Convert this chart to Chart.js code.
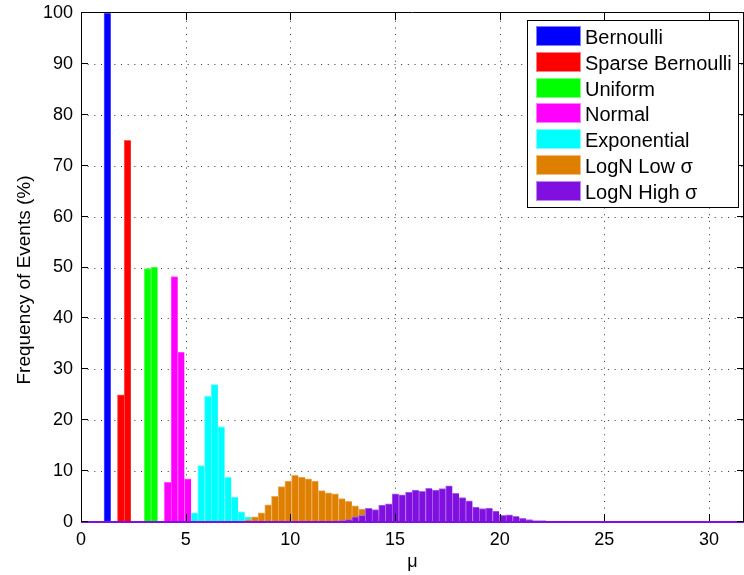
<!DOCTYPE html>
<html>
<head>
<meta charset="utf-8">
<script src="https://cdn.jsdelivr.net/npm/chart.js@4/dist/chart.umd.min.js"></script>
<style>
html,body{margin:0;padding:0;background:#fff;}
#wrap{width:744px;height:575px;}
</style>
</head>
<body>
<div id="wrap"><canvas id="c" width="744" height="575"></canvas></div>
<script>
// Histogram bin centres (μ)
const binCenters = [1.26,1.58,1.90,2.22,2.54,2.86,3.18,3.50,3.82,4.14,4.46,4.78,5.10,5.42,5.74,6.06,6.38,6.70,7.02,7.34,
  7.66,7.98,8.30,8.62,8.94,9.26,9.58,9.90,10.22,10.54,10.86,11.18,11.50,11.82,12.14,12.46,12.78,13.10,13.42,13.74,
  14.06,14.38,14.70,15.02,15.34,15.66,15.98,16.30,16.62,16.94,17.26,17.58,17.90,18.22,18.54,18.86,19.18,19.50,19.82,20.14,
  20.46,20.78,21.10,21.42,21.74,22.06,22.38,22.70,23.02,23.34,23.66];

const seriesNames = ['Bernoulli','Sparse Bernoulli','Uniform','Normal','Exponential','LogN Low \u03c3','LogN High \u03c3'];
const seriesColors = ['#0000ff','#ff0000','#00ff00','#ff00ff','#00ffff','#df7f00','#7f10e0'];
// first bin index of each series
const seriesStartBin = [0, 2, 6, 9, 13, 21, 30];
// frequency of events (%) per bin
const bernoulli = [100];
const sparseBernoulli = [25, 75];
const uniform = [49.8, 50.1];
const normal = [7.8, 48.2, 33.4, 8.5];
const exponential = [1.8, 11.1, 24.7, 27.0, 18.7, 8.8, 4.9, 2.0, 1.0, 0.4];
const logNLow = [0.5, 1.0, 1.8, 3.35, 5.05, 6.95, 8.05, 9.15, 8.8, 8.5, 8.05, 6.15, 5.75, 5.55, 4.6, 4.05, 3.2, 2.55, 2.0, 1.5, 1.1, 0.8, 0.5, 0.3];
const logNHigh = [0.1, 0.1, 0.1, 0.15, 0.2, 0.3, 0.5, 1.0, 1.3, 2.7, 2.45, 3.3, 3.55, 5.55, 5.35, 5.9, 6.25, 6.05, 6.6, 6.25,
  6.55, 7.1, 5.65, 4.8, 4.15, 2.95, 2.65, 2.75, 2.15, 1.3, 1.4, 1.1, 0.7, 0.5, 0.3, 0.3, 0.2, 0.2, 0.2, 0.15, 0.1];
const seriesValues = [bernoulli, sparseBernoulli, uniform, normal, exponential, logNLow, logNHigh];

const xTicks = [0, 5, 10, 15, 20, 25, 30];
const yTicks = [0, 10, 20, 30, 40, 50, 60, 70, 80, 90, 100];
const xMax = 31.67;
const yTitle = 'Frequency of Events (%)';

function tint(hex, f) {
  const n = parseInt(hex.slice(1), 16);
  const r = (n >> 16) & 255, g = (n >> 8) & 255, b = n & 255;
  const m = c => Math.round(c + (255 - c) * f);
  return 'rgb(' + m(r) + ',' + m(g) + ',' + m(b) + ')';
}

const datasets = seriesValues.map((vals, i) => ({
  label: seriesNames[i],
  data: vals.map((v, j) => ({ x: binCenters[seriesStartBin[i] + j], y: v })),
  backgroundColor: seriesColors[i],
  borderColor: tint(seriesColors[i], 0.35),
  borderWidth: { top: 1, left: 1, right: 0, bottom: 0 },
  borderSkipped: 'start',
  grouped: false,
  barPercentage: 1.0,
  categoryPercentage: 1.0,
  order: seriesValues.length - 1 - i
}));

const FONT = '"Liberation Sans", Arial, Helvetica, sans-serif';

const decor = {
  id: 'decor',
  beforeDatasetsDraw(chart) {
    const { ctx, chartArea: a, scales: { x, y } } = chart;
    ctx.save();
    ctx.strokeStyle = '#333';
    ctx.lineWidth = 1;
    ctx.setLineDash([1, 5.67]);
    xTicks.forEach(v => {
      if (v === 0) return;
      const px = Math.round(x.getPixelForValue(v)) + 0.5;
      ctx.beginPath(); ctx.moveTo(px, a.bottom); ctx.lineTo(px, a.top); ctx.stroke();
    });
    yTicks.forEach(v => {
      if (v === 0 || v === 100) return;
      const py = Math.round(y.getPixelForValue(v)) + 0.5;
      ctx.beginPath(); ctx.moveTo(a.left, py); ctx.lineTo(a.right, py); ctx.stroke();
    });
    ctx.restore();
  },
  afterDatasetsDraw(chart) {
    const { ctx, chartArea: a, scales: { x, y } } = chart;
    ctx.save();
    // zero-height bins of the last series along the baseline
    ctx.fillStyle = seriesColors[6];
    ctx.fillRect(a.left, a.bottom - 1, a.right - a.left, 2);
    // axes box
    ctx.strokeStyle = '#000';
    ctx.lineWidth = 1;
    ctx.beginPath();
    ctx.moveTo(a.left + 0.5, a.bottom - 1);
    ctx.lineTo(a.left + 0.5, a.top - 0.5);
    ctx.lineTo(a.right - 0.5, a.top - 0.5);
    ctx.lineTo(a.right - 0.5, a.bottom - 1);
    ctx.stroke();
    // inward ticks
    const L = 7;
    ctx.beginPath();
    xTicks.forEach(v => {
      const px = Math.round(x.getPixelForValue(v)) + 0.5;
      ctx.moveTo(px, a.bottom - 1); ctx.lineTo(px, a.bottom - 1 - L);
      ctx.moveTo(px, a.top); ctx.lineTo(px, a.top + L);
    });
    yTicks.forEach(v => {
      const py = Math.round(y.getPixelForValue(v)) - 0.5;
      ctx.moveTo(a.left, py); ctx.lineTo(a.left + L, py);
      ctx.moveTo(a.right, py); ctx.lineTo(a.right - L, py);
    });
    ctx.stroke();
    // y axis title
    ctx.translate(25, 280);
    ctx.rotate(-Math.PI / 2);
    ctx.font = '19px ' + FONT;
    ctx.fillStyle = '#000';
    ctx.textAlign = 'center';
    ctx.textBaseline = 'middle';
    ctx.fillText(yTitle, 0, 0);
    ctx.restore();
  },
  afterDraw(chart) {
    const { ctx } = chart;
    ctx.save();
    const bx = 527.5, by = 20.5, bw = 211, bh = 187;
    ctx.fillStyle = '#fff';
    ctx.fillRect(bx, by, bw, bh);
    ctx.strokeStyle = '#000';
    ctx.lineWidth = 1;
    ctx.strokeRect(bx, by, bw, bh);
    ctx.font = '20px ' + FONT;
    ctx.textBaseline = 'alphabetic';
    ctx.textAlign = 'left';
    seriesNames.forEach((name, i) => {
      const cy = 36 + i * 25.8;
      ctx.fillStyle = tint(seriesColors[i], 0.5);
      ctx.fillRect(536, Math.round(cy - 10), 45, 20);
      ctx.fillStyle = seriesColors[i];
      ctx.fillRect(537, Math.round(cy - 9), 43, 18);
      ctx.fillStyle = '#000';
      ctx.fillText(name, 585, cy + 8);
    });
    ctx.restore();
  }
};

new Chart(document.getElementById('c'), {
  type: 'bar',
  data: { datasets },
  options: {
    responsive: false,
    animation: false,
    devicePixelRatio: 1,
    layout: { padding: { top: 13, right: 0, left: 0, bottom: 0 } },
    plugins: { legend: { display: false }, tooltip: { enabled: false } },
    scales: {
      x: {
        type: 'linear',
        min: 0,
        max: xMax,
        offset: false,
        grid: { display: false, drawTicks: false },
        border: { display: false },
        afterBuildTicks: s => { s.ticks = xTicks.map(v => ({ value: v })); },
        afterFit: s => { s.height = 53; s.paddingLeft = 0; s.paddingRight = 0; },
        ticks: {
          autoSkip: false, maxRotation: 0, padding: 7, color: '#000',
          font: { family: FONT, size: 18 }
        },
        title: {
          display: true, text: '\u03bc', color: '#000',
          font: { family: FONT, size: 18 },
          padding: { top: 0, bottom: 2 }
        }
      },
      y: {
        min: 0,
        max: 100,
        grid: { display: false, drawTicks: false },
        border: { display: false },
        afterBuildTicks: s => { s.ticks = yTicks.map(v => ({ value: v })); },
        afterFit: s => { s.width = 81; s.paddingTop = 0; s.paddingBottom = 0; },
        ticks: {
          autoSkip: false, padding: 8, color: '#000',
          font: { family: FONT, size: 18 }
        },
        title: { display: false }
      }
    }
  },
  plugins: [decor]
});
</script>
</body>
</html>
